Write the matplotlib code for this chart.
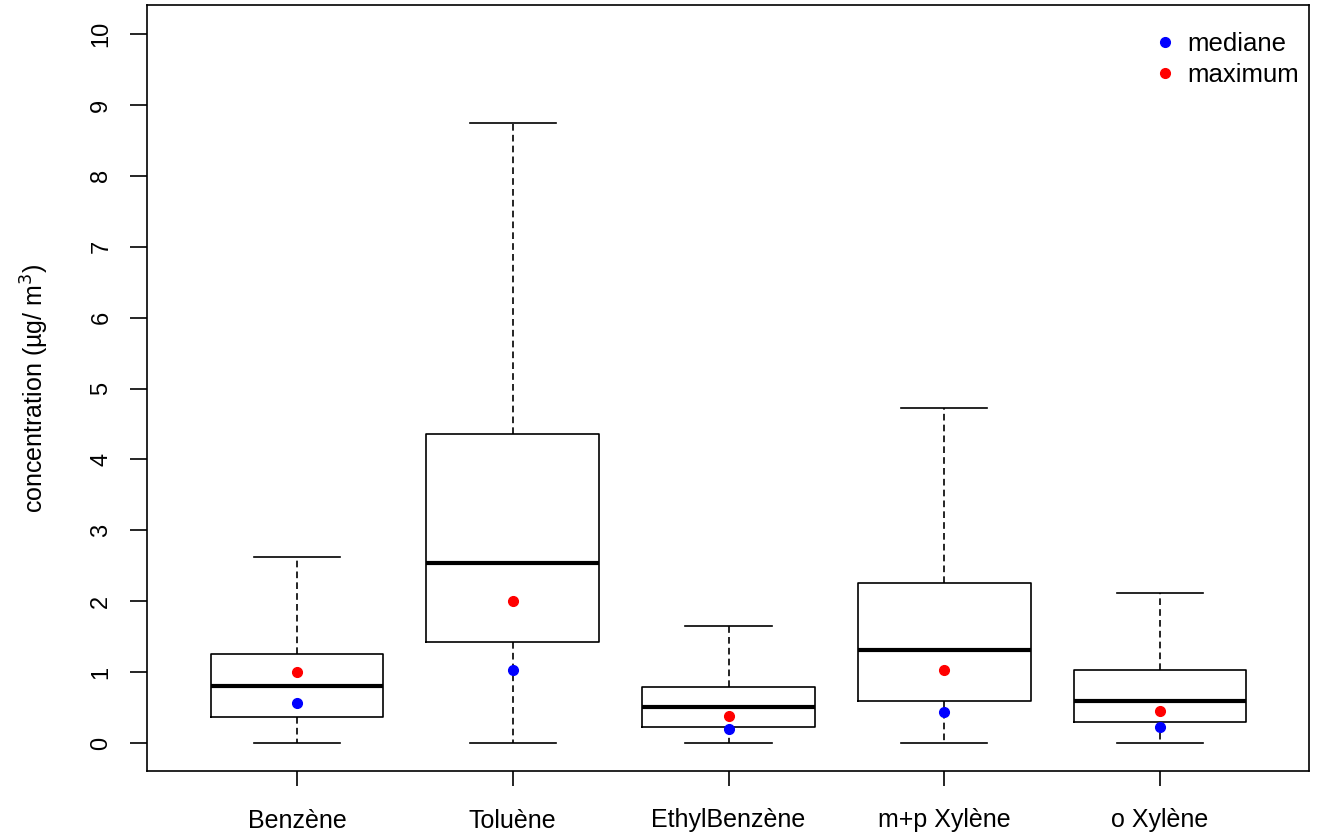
import matplotlib
matplotlib.use("Agg")
import matplotlib.pyplot as plt

plt.rcParams['font.family'] = ['Liberation Sans', 'DejaVu Sans']

compounds = ["Benzène", "Toluène", "EthylBenzène", "m+p Xylène", "o Xylène"]
whisk_lo = [0, 0, 0, 0, 0]
q1 = [0.37, 1.42, 0.23, 0.59, 0.30]
med = [0.80, 2.54, 0.51, 1.31, 0.59]
q3 = [1.26, 4.36, 0.79, 2.26, 1.03]
whisk_hi = [2.62, 8.74, 1.65, 4.72, 2.12]
pt_mediane = [0.57, 1.03, 0.20, 0.44, 0.23]
pt_maximum = [1.00, 2.00, 0.38, 1.03, 0.45]

stats = []
for i, name in enumerate(compounds):
    stats.append(dict(label=name, whislo=whisk_lo[i], q1=q1[i], med=med[i],
                      q3=q3[i], whishi=whisk_hi[i], fliers=[]))

fig = plt.figure(figsize=(13.19, 8.39), dpi=100)
ax = fig.add_axes([147/1319, 1-771/839, (1309-147)/1319, (771-5)/839])

pos = list(range(1, len(compounds)+1))
ax.bxp(stats, positions=pos, widths=0.8, showfliers=False,
       boxprops=dict(color='black', linewidth=1.2),
       whiskerprops=dict(color='black', linewidth=1.2, linestyle=(0, (4, 2.5))),
       capprops=dict(color='black', linewidth=1.2),
       medianprops=dict(color='black', linewidth=3, solid_capstyle='butt'),
       capwidths=0.4)

ax.plot(pos, pt_mediane, 'o', color='blue', markersize=7, linestyle='none', label='mediane')
ax.plot(pos, pt_maximum, 'o', color='red', markersize=7, linestyle='none', label='maximum')

ax.set_xlim(0.305, 5.69)
ax.set_ylim(-0.395, 10.41)
ax.set_yticks(range(0, 11))
ax.set_yticklabels([str(v) for v in range(0, 11)], rotation=90, va='center', fontsize=17)
ax.set_xticks(pos)
ax.set_xticklabels(compounds, fontsize=18)
ax.tick_params(axis='y', length=12, width=1.2, pad=13)
ax.tick_params(axis='x', length=11, width=1.2, pad=16)
for s in ax.spines.values():
    s.set_linewidth(1.2)
ax.set_ylabel("concentration (µg/ m$^3$)", fontsize=18, labelpad=28)

ax.legend(loc='upper right', frameon=False, fontsize=18.5, handletextpad=0.25,
          bbox_to_anchor=(1.005, 0.985), borderaxespad=0.2, labelspacing=0.28,
          handlelength=1.3)

fig.savefig("out.png", dpi=100)
